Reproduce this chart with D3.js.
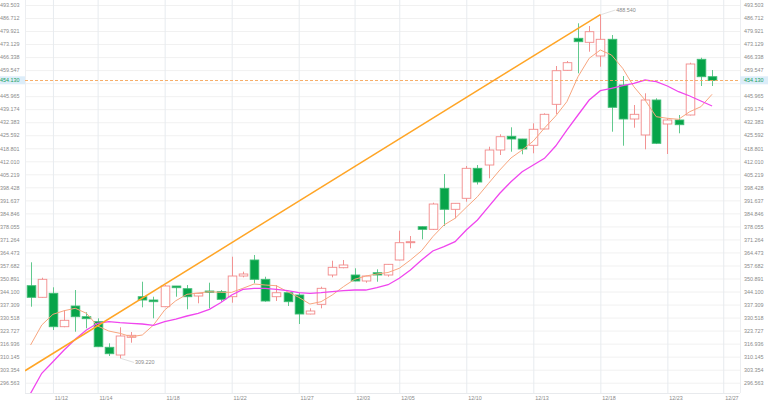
<!DOCTYPE html>
<html><head><meta charset="utf-8">
<script src="https://cdn.jsdelivr.net/npm/d3@7/dist/d3.min.js"></script>
<style>
body{margin:0;background:#fff;}
svg{display:block;font-family:"Liberation Sans",Arial,sans-serif;}
</style>
</head><body>
<svg id="c" width="768" height="405"></svg>
<script>
// ---------- data ----------
const openP = [347.14,341.09,343.17,325.76,336.55,330.97,328.37,315.02,311.00,320.23,
341.40,339.68,336.19,346.98,345.57,341.77,344.37,344.01,341.40,352.19,
360.54,350.47,341.40,343.48,342.29,332.38,337.43,352.72,356.52,352.72,
349.59,353.91,352.72,360.54,369.56,377.90,376.54,397.92,386.97,392.71,
408.35,410.07,417.89,425.04,423.63,420.35,428.85,441.72,459.45,476.14,
474.05,466.91,475.62,451.79,434.06,425.72,443.97,431.45,433.54,436.15,
465.19,456.12];
const closeP = [341.09,350.47,325.76,329.10,330.97,329.93,315.33,311.68,320.91,321.27,
339.68,338.80,346.98,346.10,341.40,343.17,343.69,340.04,352.19,353.24,
350.47,339.16,343.48,338.80,332.38,333.95,345.78,356.73,357.93,349.59,
352.19,352.72,358.29,369.56,370.08,376.54,389.73,386.97,390.10,408.35,
401.21,417.89,424.83,423.63,418.42,428.69,436.51,459.24,463.42,474.37,
479.58,475.62,440.16,434.06,436.51,443.97,421.39,433.54,431.09,462.74,
456.12,454.13];
const highP = [359.34,351.31,346.30,334.47,344.89,333.27,330.14,317.10,325.45,323.00,
349.22,341.40,347.50,347.00,347.50,343.30,348.70,344.89,362.26,354.44,
363.15,351.83,347.50,343.60,343.48,335.35,346.61,360.17,360.54,356.21,
352.30,355.69,358.40,375.81,373.05,378.00,390.41,405.38,390.20,409.55,
410.07,419.61,426.08,429.73,423.70,431.82,437.03,461.69,464.30,483.96,
482.55,488.54,477.86,456.48,441.36,447.46,444.85,434.42,436.15,463.42,
466.02,459.61];
const lowP = [336.19,340.90,324.04,325.50,323.15,324.92,315.20,310.48,309.22,317.41,
335.87,330.14,336.00,341.40,334.83,337.96,335.35,338.80,338.27,351.52,
348.39,338.80,339.16,336.55,327.16,332.20,335.35,351.52,356.21,349.43,
348.70,349.22,351.83,360.38,366.64,371.33,376.18,378.27,382.28,390.94,
399.90,403.14,415.29,417.01,415.65,416.18,428.70,436.67,459.35,457.89,
469.15,461.33,427.44,420.13,429.52,418.26,421.00,415.81,426.60,435.90,
451.27,451.27];
const ma5 = [316.22,326.64,332.22,334.10,335.36,332.74,326.12,323.51,322.31,320.54,
321.43,326.64,334.46,339.31,342.65,343.33,344.01,343.69,343.69,345.78,
348.02,347.50,347.13,344.01,341.09,337.59,338.79,342.29,346.61,350.47,
352.19,353.24,354.02,356.21,360.54,365.38,372.68,378.79,382.28,388.01,
393.54,400.53,407.46,413.72,417.89,422.59,429.36,435.62,443.08,456.11,
465.71,470.04,467.43,460.49,450.90,443.96,435.26,434.42,433.90,437.86,
440.47,446.94];
const ma10 = [291.03,301.46,307.51,313.61,319.19,324.04,327.53,328.36,327.84,327.53,
327.16,326.49,328.36,329.77,331.34,332.74,334.83,338.27,342.29,345.26,
345.78,345.78,345.26,344.53,343.48,343.17,343.48,344.01,344.53,344.89,
344.89,346.09,347.66,350.99,355.32,360.54,365.23,367.47,370.08,376.18,
381.39,388.33,395.32,401.36,406.58,410.07,413.56,419.98,428.32,436.14,
443.96,448.81,450.06,451.42,452.67,454.39,453.51,451.26,448.29,446.05,
443.44,440.84];
const yTicks = [493.503,486.712,479.921,473.129,466.338,459.547,452.756,445.965,439.174,
432.383,425.592,418.801,412.010,405.219,398.428,391.637,384.846,378.055,371.264,364.473,
357.682,350.891,344.100,337.309,330.518,323.727,316.936,310.145,303.354,296.563];
const xTickIndex = [2,6,12,18,24,29,33,39,45,51,57,62];
const xTickLabels = ["11/12","11/14","11/18","11/22","11/27","12/03","12/05","12/10","12/13","12/18","12/23","12/27"];
const trendIdx = [-0.5, 51];
const trendVal = [302.8, 488.54];
const lastPrice = 454.13;
const maxIdx = 51, minIdx = 8;

// ---------- layout ----------
const svg = d3.select("#c");
const P = {l:25, r:740, t:0, b:393};
const x = d3.scaleLinear().domain([-0.5, 63.5]).range([P.l, P.r]);
const y = d3.scaleLinear().domain([296.563, 493.503]).range([382.7, 5]);
const fmt = d3.format(".3f");
const FS = "5.4px", TXT = "#8a8a8a";
// tick labels hidden behind the last-price label
const labelTicks = yTicks.filter(v => Math.abs(y(v) - y(lastPrice)) > 6);

svg.append("defs").append("clipPath").attr("id","clip")
  .append("rect").attr("x",P.l).attr("y",P.t).attr("width",P.r-P.l).attr("height",P.b-P.t);

// horizontal grid
const gGrid = svg.append("g").attr("transform",`translate(${P.l},0)`)
  .call(d3.axisLeft(y).tickValues(yTicks).tickSize(-(P.r-P.l)).tickFormat(""));
gGrid.select(".domain").remove();
gGrid.selectAll("line").attr("stroke","#f1f1f1");

// vertical grid
const gV = svg.append("g").attr("transform",`translate(0,${P.b})`)
  .call(d3.axisBottom(x).tickValues(xTickIndex).tickSize(-(P.b-P.t)).tickFormat(""));
gV.select(".domain").remove();
gV.selectAll("line").attr("stroke","#e7ebef");

// borders
svg.append("line").attr("x1",P.l+0.5).attr("x2",P.l+0.5).attr("y1",P.t).attr("y2",P.b).attr("stroke","#eceef1");
svg.append("line").attr("x1",P.r+0.5).attr("x2",P.r+0.5).attr("y1",P.t).attr("y2",P.b).attr("stroke","#eceef1");
svg.append("line").attr("x1",P.l).attr("x2",P.r).attr("y1",P.b+0.5).attr("y2",P.b+0.5).attr("stroke","#e8eaed");

// y axes
function styleAxis(g){
  g.select(".domain").remove();
  g.selectAll("line").remove();
  g.selectAll("text").attr("fill",TXT).style("font-size",FS).style("font-family","'Liberation Sans',Arial,sans-serif");
}
svg.append("g").attr("transform",`translate(${P.l},0)`)
  .call(d3.axisLeft(y).tickValues(labelTicks).tickSize(0).tickPadding(5.5).tickFormat(fmt)).call(styleAxis);
svg.append("g").attr("transform",`translate(${P.r},0)`)
  .call(d3.axisRight(y).tickValues(labelTicks).tickSize(0).tickPadding(4).tickFormat(fmt)).call(styleAxis);

// x axis labels
const gx = svg.append("g").attr("transform",`translate(0,${P.b})`)
  .call(d3.axisBottom(x).tickValues(xTickIndex).tickSize(0).tickPadding(3.6)
        .tickFormat((d,i)=>xTickLabels[i]));
styleAxis(gx);
gx.selectAll("text").attr("text-anchor","start").attr("dx","1.4");

// candles
const idx = d3.range(openP.length);
const bw = 8.6;
const gC = svg.append("g").attr("clip-path","url(#clip)");
idx.forEach(i=>{
  const up = closeP[i] >= openP[i];
  const cx = Math.round(x(i)) + 0.5;
  gC.append("line").attr("x1",cx).attr("x2",cx)
    .attr("y1",y(highP[i])).attr("y2",y(lowP[i]))
    .attr("stroke", up ? "#f29393" : "#62c98e").attr("stroke-width",1);
  const top = y(Math.max(openP[i],closeP[i])), bot = y(Math.min(openP[i],closeP[i]));
  gC.append("rect").attr("x",cx-bw/2).attr("y",top).attr("width",bw).attr("height",Math.max(1,bot-top))
    .attr("fill", up ? "#ffffff" : "#07a449")
    .attr("stroke", up ? "#f28b8b" : "#3fbc74").attr("stroke-width",0.9);
});

// MA lines
const line = d3.line().x((d,i)=>x(i)).y(d=>y(d));
svg.append("path").attr("clip-path","url(#clip)").datum(ma5).attr("d",line)
  .attr("fill","none").attr("stroke","#f8a67f").attr("stroke-width",1);
svg.append("path").attr("clip-path","url(#clip)").datum(ma10).attr("d",line)
  .attr("fill","none").attr("stroke","#f046ee").attr("stroke-width",1.3);

// trend line
svg.append("line").attr("clip-path","url(#clip)")
  .attr("x1",x(trendIdx[0])).attr("y1",y(trendVal[0]))
  .attr("x2",x(trendIdx[1])).attr("y2",y(trendVal[1]))
  .attr("stroke","#ffa526").attr("stroke-width",1.5);

// max / min labels
function mark(i, v, dx, dy){
  const px = x(i), py = y(v);
  svg.append("line").attr("x1",px+1).attr("y1",py).attr("x2",px+dx-1).attr("y2",py+dy)
    .attr("stroke","#d8d8d8").attr("stroke-width",0.8);
  svg.append("text").attr("x",px+dx).attr("y",py+dy).attr("dy","0.35em")
    .attr("fill",TXT).style("font-size",FS).text(fmt(v));
}
mark(maxIdx, highP[maxIdx], 16, -4.5);
mark(minIdx, lowP[minIdx], 15, 4);

// price line
const py = y(lastPrice);
svg.append("line").attr("x1",P.l).attr("x2",P.r).attr("y1",py).attr("y2",py)
  .attr("stroke","#f6a65a").attr("stroke-width",0.9).attr("stroke-dasharray","3,2");
[[0,P.l],[P.r,768]].forEach(([a,b],k)=>{
  svg.append("rect").attr("x",a).attr("y",py-4.2).attr("width",b-a).attr("height",8)
    .attr("fill","#dcedf9");
  svg.append("text").attr("x", k===0 ? P.l-5.5 : P.r+4).attr("y",py).attr("dy","0.35em")
    .attr("text-anchor", k===0 ? "end" : "start")
    .attr("fill","#14a05a").style("font-size",FS).text(fmt(lastPrice));
});
</script>
</body></html>
